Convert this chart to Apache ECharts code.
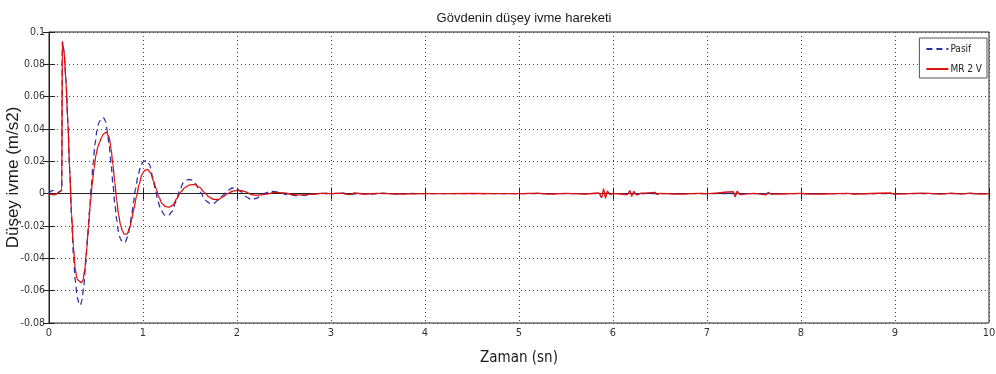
<!DOCTYPE html>
<html>
<head>
<meta charset="utf-8">
<script src="https://cdn.jsdelivr.net/npm/echarts@6/dist/echarts.min.js"></script>
<style>
  html, body { margin: 0; padding: 0; background: #fff; }
  #chart { width: 996px; height: 374px; }
</style>
</head>
<body>
<div id="chart"></div>
<script>
// Time (s) and vertical body acceleration (m/s2), passive suspension
const pasifTime = [
  0.00, 0.02, 0.04, 0.06, 0.09, 0.12, 0.136, 0.142, 0.16, 0.18, 0.20, 0.22, 0.24, 0.26, 0.28, 0.30,
  0.32, 0.335, 0.35, 0.37, 0.39, 0.41, 0.43, 0.45, 0.47, 0.49, 0.51, 0.53, 0.56, 0.58, 0.60, 0.62,
  0.64, 0.66, 0.68, 0.70, 0.72, 0.74, 0.76, 0.78, 0.81, 0.84, 0.86, 0.88, 0.90, 0.92, 0.95, 0.98,
  1.01, 1.04, 1.07, 1.10, 1.13, 1.16, 1.19, 1.23, 1.27, 1.31, 1.35, 1.39, 1.43, 1.48, 1.52, 1.56,
  1.61, 1.66, 1.71, 1.75, 1.80, 1.85, 1.90, 1.95, 2.00, 2.05, 2.10, 2.15, 2.20, 2.28, 2.36, 2.44,
  2.52, 2.62, 2.72, 2.82, 2.92, 3.00, 3.12, 3.2, 3.3, 3.4, 3.55, 3.7, 3.85, 4.0, 10.0
];
const pasifValue = [
  0.000, 0.0015, 0.002, 0.001, 0.0005, 0.0015, 0.002, 0.094, 0.088, 0.071, 0.046, 0.015, -0.015, -0.038, -0.054, -0.064,
  -0.068, -0.069, -0.066, -0.057, -0.044, -0.028, -0.011, 0.005, 0.019, 0.031, 0.039, 0.044, 0.0465, 0.047, 0.045, 0.039,
  0.030, 0.019, 0.006, -0.006, -0.016, -0.024, -0.028, -0.030, -0.030, -0.026, -0.020, -0.013, -0.005, 0.003, 0.012, 0.018,
  0.020, 0.0205, 0.018, 0.011, 0.003, -0.005, -0.010, -0.0133, -0.0136, -0.011, -0.005, 0.002, 0.007, 0.0087, 0.0085, 0.006,
  0.001, -0.004, -0.006, -0.0062, -0.004, -0.001, 0.002, 0.0035, 0.003, 0.001, -0.002, -0.0037, -0.003, 0.000, 0.0014, 0.001,
  -0.0005, -0.0012, -0.001, -0.0002, 0.0002, 0.000, 0.0004, -0.0005, 0.0003, -0.0004, 0.0003, -0.0002, 0.0001, 0.000, 0.000
];

// Time (s) and vertical body acceleration (m/s2), MR damper at 2 V
const mrTime = [
  0.00, 0.03, 0.06, 0.09, 0.12, 0.136, 0.142, 0.16, 0.18, 0.20, 0.22, 0.24, 0.26, 0.28, 0.30, 0.32,
  0.34, 0.36, 0.38, 0.40, 0.42, 0.44, 0.46, 0.48, 0.50, 0.52, 0.54, 0.56, 0.58, 0.61, 0.64, 0.66,
  0.68, 0.70, 0.72, 0.74, 0.76, 0.78, 0.80, 0.83, 0.86, 0.88, 0.90, 0.93, 0.96, 0.99, 1.02, 1.05,
  1.08, 1.11, 1.14, 1.17, 1.20, 1.24, 1.28, 1.32, 1.36, 1.40, 1.45, 1.50, 1.55, 1.60, 1.65, 1.70,
  1.75, 1.80, 1.85, 1.90, 1.95, 2.00, 2.05, 2.10, 2.15, 2.20, 2.30, 2.40, 2.50, 2.60, 2.70, 2.80,
  2.90, 3.00, 3.10, 3.20, 3.25, 3.35, 3.50, 3.70, 4.00, 4.50, 5.00, 5.20, 5.30, 5.50, 5.70, 5.85,
  5.88, 5.90, 5.92, 5.94, 5.97, 6.00, 6.15, 6.18, 6.20, 6.22, 6.25, 6.30, 6.45, 6.47, 6.50, 6.70,
  6.90, 7.00, 7.28, 7.30, 7.32, 7.35, 7.50, 7.63, 7.65, 7.68, 8.00, 8.10, 8.50, 8.55, 8.95, 9.00,
  9.30, 9.50, 9.60, 9.70, 9.80, 9.90, 10.00
];
const mrValue = [
  0.000, -0.0005, -0.0008, 0.000, 0.0015, 0.002, 0.094, 0.088, 0.070, 0.045, 0.015, -0.012, -0.033, -0.047, -0.053, -0.054,
  -0.055, -0.054, -0.047, -0.035, -0.020, -0.006, 0.006, 0.016, 0.024, 0.029, 0.032, 0.035, 0.037, 0.038, 0.035, 0.028,
  0.018, 0.007, -0.004, -0.013, -0.019, -0.023, -0.025, -0.025, -0.021, -0.016, -0.010, -0.002, 0.006, 0.012, 0.0145, 0.015,
  0.013, 0.008, 0.003, -0.002, -0.006, -0.008, -0.0083, -0.007, -0.003, 0.001, 0.004, 0.0055, 0.0056, 0.004, 0.001, -0.002,
  -0.0035, -0.0037, -0.002, 0.000, 0.0015, 0.002, 0.0018, 0.001, -0.0005, -0.001, -0.0004, 0.0008, 0.0005, -0.0006, -0.0008, -0.0003,
  0.0002, 0.000, 0.0003, -0.0006, 0.0005, -0.0003, 0.0002, -0.0002, 0.000, 0.0001, 0.000, 0.0003, -0.0003, 0.0002, -0.0002, 0.0004,
  -0.0025, 0.0030, -0.0028, 0.0015, -0.0006, 0.0002, -0.0006, 0.0018, -0.0016, 0.0014, -0.0008, 0.0003, 0.0008, -0.0006, 0.0002, -0.0003,
  0.0002, 0.000, 0.0012, -0.0020, 0.0016, -0.0005, 0.0002, -0.0007, 0.0008, -0.0003, 0.0002, -0.0003, 0.0002, -0.0002, 0.0004, -0.0003,
  0.0003, -0.0003, 0.0003, -0.0003, 0.0003, -0.0002, 0.000
];

const xTicks = { min: 0, max: 10, step: 1 };
const yTicks = { min: -0.08, max: 0.1, step: 0.02 };

const pair = (ts, vs) => ts.map((t, i) => [t, vs[i]]);

const narrow = '"Liberation Sans Narrow", "DejaVu Sans Condensed", "Liberation Sans", Arial, sans-serif';
const sans = '"Liberation Sans", Arial, sans-serif';

const chart = echarts.init(document.getElementById('chart'), null, { renderer: 'canvas' });

const gridLine = { show: true, lineStyle: { color: '#444', type: [1, 3], width: 1 } };
const innerTick = { show: true, inside: true, length: 6, lineStyle: { color: '#222' } };

chart.setOption({
  animation: false,
  backgroundColor: '#fff',
  title: {
    text: 'Gövdenin düşey ivme hareketi',
    left: 519, top: 7, textAlign: 'center',
    textStyle: { fontFamily: sans, fontSize: 13, fontWeight: 'normal', color: '#1a1a1a' }
  },
  grid: {
    left: 49, right: 7, top: 32, bottom: 51,
    containLabel: false, outerBoundsMode: 'none',
    show: true, borderColor: '#222', borderWidth: 1, backgroundColor: 'transparent'
  },
  legend: {
    right: 9, top: 38, orient: 'vertical',
    itemWidth: 22, itemHeight: 8, itemGap: 10,
    padding: [6, 5, 4, 6],
    borderColor: '#555', borderWidth: 1, backgroundColor: '#fff',
    itemStyle: { opacity: 0 },
    textStyle: { fontFamily: narrow, fontSize: 10, color: '#222', padding: [0, 0, 0, -3] },
    data: ['Pasif', 'MR 2 V']
  },
  xAxis: [{
    type: 'value', min: xTicks.min, max: xTicks.max, interval: xTicks.step,
    name: 'Zaman (sn)', nameLocation: 'middle', nameGap: 28, nameMoveOverlap: false,
    nameTextStyle: { fontFamily: narrow, fontSize: 15, color: '#1a1a1a' },
    axisLine: { show: true, lineStyle: { color: '#222' } },
    axisTick: innerTick,
    axisLabel: { fontFamily: narrow, fontSize: 11, color: '#333', margin: 5 },
    splitLine: gridLine
  }, {
    type: 'value', position: 'top', min: xTicks.min, max: xTicks.max, interval: xTicks.step,
    axisLine: { show: false }, axisTick: innerTick,
    axisLabel: { show: false }, splitLine: { show: false }
  }],
  yAxis: [{
    type: 'value', min: yTicks.min, max: yTicks.max, interval: yTicks.step,
    name: 'Düşey ivme (m/s2)', nameLocation: 'middle', nameGap: 27, nameMoveOverlap: false,
    nameTextStyle: { fontFamily: sans, fontSize: 17, color: '#1a1a1a' },
    axisLine: { show: true, lineStyle: { color: '#222' } },
    axisTick: innerTick,
    axisLabel: { fontFamily: narrow, fontSize: 10.5, color: '#333', margin: 4,
      formatter: v => String(Math.round(v * 100) / 100) },
    splitLine: gridLine
  }, {
    type: 'value', position: 'right', min: yTicks.min, max: yTicks.max, interval: yTicks.step,
    axisLine: { show: false }, axisTick: innerTick,
    axisLabel: { show: false }, splitLine: { show: false }
  }],
  series: [{
    name: 'Pasif', type: 'line', xAxisIndex: 0, yAxisIndex: 0,
    data: pair(pasifTime, pasifValue),
    symbol: 'none', smooth: 0.25, smoothMonotone: 'x',
    lineStyle: { color: '#2b2fa8', width: 1.3, type: [6, 4] },
    itemStyle: { color: '#2b2fa8' }, z: 2
  }, {
    name: 'MR 2 V', type: 'line', xAxisIndex: 0, yAxisIndex: 0,
    data: pair(mrTime, mrValue),
    symbol: 'none', smooth: 0.25, smoothMonotone: 'x',
    lineStyle: { color: '#e01010', width: 1.3 },
    itemStyle: { color: '#e01010' }, z: 3
  }]
});
</script>
</body>
</html>
